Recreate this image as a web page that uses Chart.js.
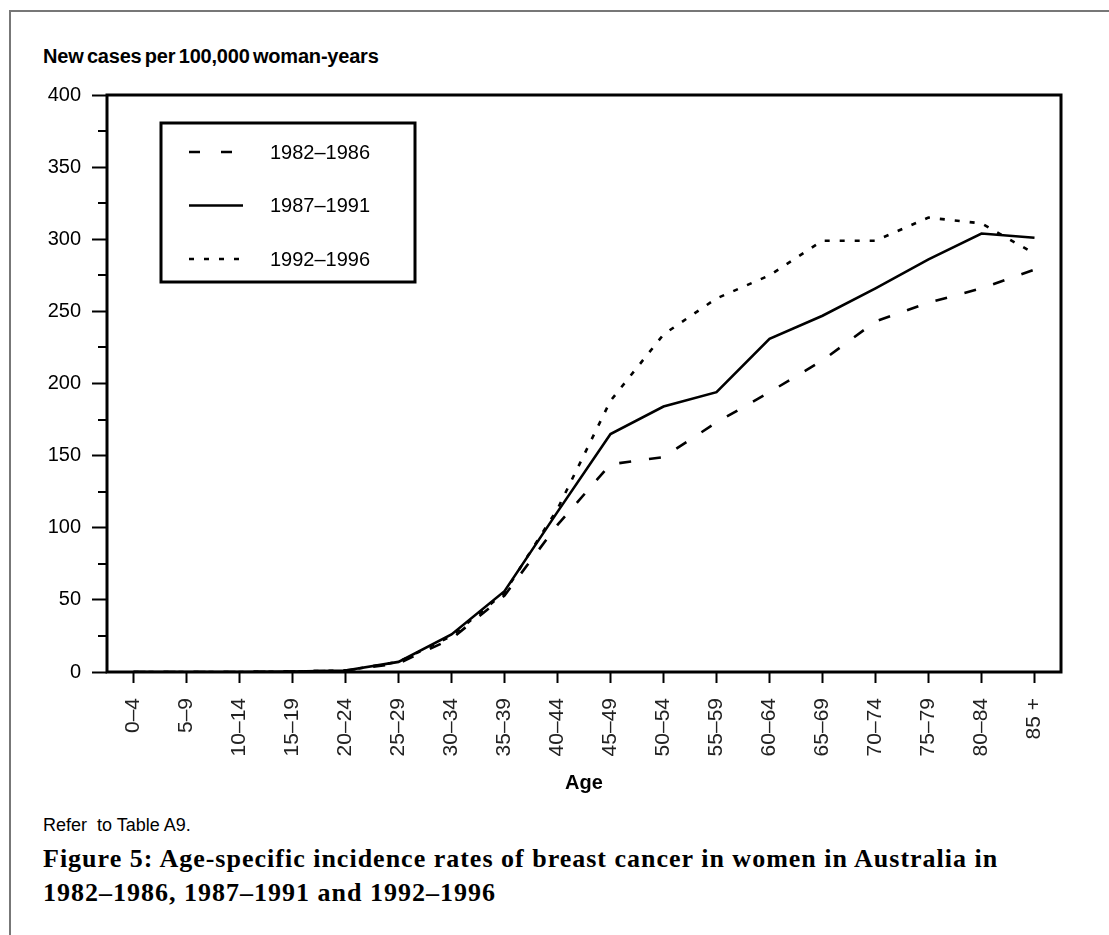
<!DOCTYPE html>
<html>
<head>
<meta charset="utf-8">
<script src="https://cdn.jsdelivr.net/npm/chart.js@4.4.1/dist/chart.umd.min.js"></script>
<style>
  body { margin: 0; background: #fff; width: 1109px; height: 935px; position: relative; overflow: hidden; font-family: "Liberation Sans", Arial, sans-serif; }
  #frame { position: absolute; left: 9px; top: 10px; right: 0; bottom: 0; border-top: 2px solid #777; border-left: 2px solid #777; }
  #chartBox { position: absolute; left: 0; top: 0; width: 1109px; height: 810px; }
  #yTitle { position: absolute; left: 43px; top: 45px; font-weight: bold; font-size: 20px; letter-spacing: -0.2px; word-spacing: -2px; }
  #note { position: absolute; left: 43px; top: 815px; font-size: 18px; }
  #caption { position: absolute; left: 43px; top: 842px; font-family: "Liberation Serif", serif; font-weight: bold; font-size: 26px; letter-spacing: 1px; line-height: 34px; }
</style>
</head>
<body>
<div id="frame"></div>
<div id="yTitle">New cases per 100,000 woman-years</div>
<div id="chartBox"><canvas id="lineChart" width="1109" height="810"></canvas></div>
<div id="note">Refer&nbsp; to Table A9.</div>
<div id="caption">Figure 5: Age-specific incidence rates of breast cancer in women in Australia in<br>1982–1986, 1987–1991 and 1992–1996</div>
<script>
// Adin taldeak eta hiru aldietako tasak (irudiaren arabera estimatuak)
const ageGroups = ["0–4", "5–9", "10–14", "15–19", "20–24", "25–29", "30–34", "35–39", "40–44",
    "45–49", "50–54", "55–59", "60–64", "65–69", "70–74", "75–79", "80–84", "85 +"];
const seriesNames = ["1982–1986", "1987–1991", "1992–1996"];
const rates1982 = [0, 0, 0, 0.3, 1, 6, 23, 53, 102, 144, 149, 173, 194, 216, 243, 256, 266, 279];
const rates1987 = [0, 0, 0, 0.3, 1, 7, 26, 56, 111, 165, 184, 194, 231, 247, 266, 286, 304, 301];
const rates1992 = [0, 0, 0, 0.3, 1, 7, 25, 55, 113, 188, 234, 259, 275, 299, 299, 315, 311, 290];
const yMin = 0, yMax = 400, yMajor = 50, yMinor = 25;

// Marko beltza, tick txikiak eta legenda
const framePlugin = {
    id: "framePlugin",
    afterDraw(chart) {
        const ctx = chart.ctx;
        const a = chart.chartArea;
        const y = chart.scales.y;
        ctx.save();
        ctx.strokeStyle = "#000";
        // tick txikiak
        ctx.lineWidth = 2;
        for (let v = yMin + yMinor; v < yMax; v += yMajor) {
            const py = Math.round(y.getPixelForValue(v));
            ctx.beginPath();
            ctx.moveTo(a.left - 9, py);
            ctx.lineTo(a.left, py);
            ctx.stroke();
        }
        ctx.lineWidth = 3;
        ctx.strokeRect(a.left, a.top, a.right - a.left, a.bottom - a.top);

        // legenda
        const bx = 161, by = 123, bw = 254, bh = 159;
        ctx.fillStyle = "#fff";
        ctx.fillRect(bx, by, bw, bh);
        ctx.strokeRect(bx, by, bw, bh);
        ctx.font = "20px 'Liberation Sans', Arial, sans-serif";
        ctx.textBaseline = "middle";
        ctx.fillStyle = "#000";
        chart.data.datasets.forEach(function (ds, i) {
            const ry = by + 29 + i * 53.5;
            ctx.lineWidth = ds.borderWidth;
            ctx.setLineDash(i === 0 ? [11, 21] : ds.borderDash);
            ctx.beginPath();
            ctx.moveTo(189, ry);
            ctx.lineTo(243, ry);
            ctx.stroke();
            ctx.setLineDash([]);
            ctx.fillText(ds.label, 270, ry + 1);
        });
        ctx.restore();
    }
};

const ctx = document.getElementById("lineChart").getContext("2d");
new Chart(ctx, {
    type: "line",
    data: {
        labels: ageGroups,
        datasets: [
            { label: seriesNames[0], data: rates1982, borderColor: "#000", borderWidth: 2.6, borderDash: [12, 18], pointRadius: 0, tension: 0, fill: false },
            { label: seriesNames[1], data: rates1987, borderColor: "#000", borderWidth: 2.6, borderDash: [], pointRadius: 0, tension: 0, fill: false },
            { label: seriesNames[2], data: rates1992, borderColor: "#000", borderWidth: 2.6, borderDash: [5, 10], pointRadius: 0, tension: 0, fill: false },
        ],
    },
    options: {
        responsive: false,
        animation: false,
        devicePixelRatio: 1,
        layout: { padding: { left: 0, top: 95, right: 48, bottom: 0 } },
        plugins: { legend: { display: false }, tooltip: { enabled: false } },
        scales: {
            x: {
                offset: true,
                afterFit: function (scale) { scale.height = 138; },
                grid: { drawOnChartArea: false, tickLength: 11, tickColor: "#000", tickWidth: 2 },
                border: { display: false },
                ticks: {
                    minRotation: 90, maxRotation: 90, autoSkip: false, padding: 15,
                    color: "#222", font: { size: 21, family: "'Liberation Sans', Arial, sans-serif" },
                },
                title: {
                    display: true, text: "Age", color: "#000",
                    font: { size: 20, weight: "bold", family: "'Liberation Sans', Arial, sans-serif" },
                    padding: { top: 0, bottom: 15 },
                },
            },
            y: {
                min: yMin,
                max: yMax,
                afterFit: function (scale) { scale.width = 107; },
                grid: { drawOnChartArea: false, tickLength: 15, tickColor: "#000", tickWidth: 2 },
                border: { display: false },
                ticks: {
                    stepSize: yMajor, padding: 11, color: "#000",
                    font: { size: 20, family: "'Liberation Sans', Arial, sans-serif" },
                },
            },
        },
    },
    plugins: [framePlugin],
});
</script>
</body>
</html>
